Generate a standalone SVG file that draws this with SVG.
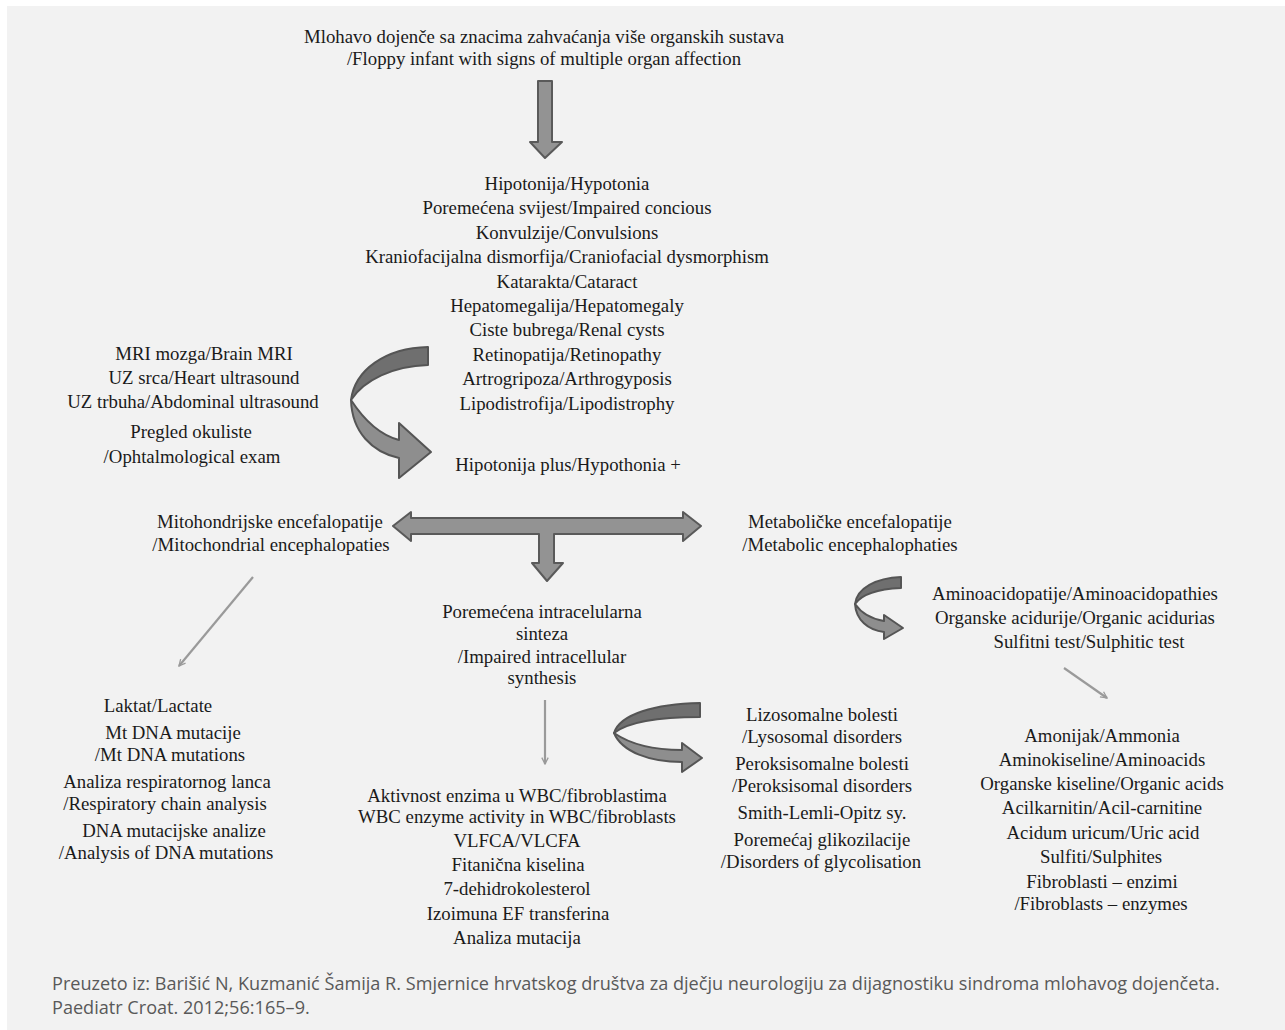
<svg xmlns="http://www.w3.org/2000/svg" width="1285" height="1030" viewBox="0 0 1285 1030">
<style>
.t{font-family:"Liberation Serif","Times New Roman",serif;font-size:18.8px;fill:#1a1a1a;text-anchor:middle}
.f{font-family:"Open Sans","Noto Sans",sans-serif;font-size:18.1px;fill:#595959}
.blk{fill:#939393;stroke:#5a5a5a;stroke-width:2;stroke-linejoin:round}
.dk{fill:#6f6f6f;stroke:#555;stroke-width:2;stroke-linejoin:round}
.lt{fill:#8e8e8e;stroke:#555;stroke-width:2;stroke-linejoin:round}
.thin{stroke:#9a9a9a;stroke-width:2.2;fill:none}
</style>
<defs>
<marker id="ah" viewBox="0 0 10 10" refX="9" refY="5" markerWidth="8" markerHeight="8" markerUnits="userSpaceOnUse" orient="auto">
<path d="M1,1 L9,5 L1,9" fill="none" stroke="#9a9a9a" stroke-width="1.6"/>
</marker>
</defs>
<rect x="7" y="6" width="1278" height="1024" fill="#f2f2f2"/>

<g id="connectors">
<path class="blk" d="M538,81 L552,81 L552,142 L562,142 L545,158 L530,142 L538,142 Z"/>
<g id="curved1">
<path class="dk" d="M428,347 L428,365 C393,366 364,380 351,400 C355,370 385,348 428,347 Z"/>
<path class="lt" d="M351,400 C364,420 380,435 399,440 L399,423 L431,452 L399,478 L399,458 C372,452 352,432 351,400 Z"/>
</g>
<path class="blk" d="M411,518 L539,518 L683,518 L683,512 L701,526 L683,541 L683,534 L554,534 L554,563 L563,563 L547,581 L532,563 L539,563 L539,534 L411,534 L411,541 L393,526 L411,512 Z"/>
<g id="curved2">
<path class="dk" d="M901,577 L901,588 C878,589 862,594 855,604 C857,588 876,578 901,577 Z"/>
<path class="lt" d="M855,604 C862,614 872,619 884,621 L884,615 L903,628 L884,639 L884,632 C868,630 856,620 855,604 Z"/>
</g>
<g id="curved3">
<path class="dk" d="M700,703 L700,717 C660,717 628,722 614,733 C620,714 655,704 700,703 Z"/>
<path class="lt" d="M614,733 C630,744 655,750 682,750 L682,743 L702,758 L682,772 L682,762 C650,762 622,752 614,733 Z"/>
</g>
<line class="thin" x1="253" y1="577" x2="179" y2="666" marker-end="url(#ah)"/>
<line class="thin" x1="545" y1="700" x2="545" y2="764" marker-end="url(#ah)"/>
<line class="thin" x1="1064" y1="668" x2="1107" y2="698" marker-end="url(#ah)"/>
</g>

<g id="n-top">
<text class="t" x="544" y="43">Mlohavo dojenče sa znacima zahvaćanja više organskih sustava</text>
<text class="t" x="544" y="65">/Floppy infant with signs of multiple organ affection</text>
</g>
<g id="n-signs">
<text class="t" x="567" y="190">Hipotonija/Hypotonia</text>
<text class="t" x="567" y="214">Poremećena svijest/Impaired concious</text>
<text class="t" x="567" y="239">Konvulzije/Convulsions</text>
<text class="t" x="567" y="263">Kraniofacijalna dismorfija/Craniofacial dysmorphism</text>
<text class="t" x="567" y="288">Katarakta/Cataract</text>
<text class="t" x="567" y="312">Hepatomegalija/Hepatomegaly</text>
<text class="t" x="567" y="336">Ciste bubrega/Renal cysts</text>
<text class="t" x="567" y="361">Retinopatija/Retinopathy</text>
<text class="t" x="567" y="385">Artrogripoza/Arthrogyposis</text>
<text class="t" x="567" y="410">Lipodistrofija/Lipodistrophy</text>
</g>
<g id="n-imaging">
<text class="t" x="204" y="360">MRI mozga/Brain MRI</text>
<text class="t" x="204" y="384">UZ srca/Heart ultrasound</text>
<text class="t" x="193" y="408">UZ trbuha/Abdominal ultrasound</text>
<text class="t" x="191" y="438">Pregled okuliste</text>
<text class="t" x="192" y="463">/Ophtalmological exam</text>
</g>
<g id="n-plus">
<text class="t" x="568" y="471">Hipotonija plus/Hypothonia +</text>
</g>
<g id="n-mito">
<text class="t" x="270" y="528">Mitohondrijske encefalopatije</text>
<text class="t" x="271" y="551">/Mitochondrial encephalopaties</text>
</g>
<g id="n-meta">
<text class="t" x="850" y="528">Metaboličke encefalopatije</text>
<text class="t" x="850" y="551">/Metabolic encephalophaties</text>
</g>
<g id="n-synth">
<text class="t" x="542" y="618">Poremećena intracelularna</text>
<text class="t" x="542" y="640">sinteza</text>
<text class="t" x="542" y="663">/Impaired intracellular</text>
<text class="t" x="542" y="684">synthesis</text>
</g>
<g id="n-amino">
<text class="t" x="1075" y="600">Aminoacidopatije/Aminoacidopathies</text>
<text class="t" x="1075" y="624">Organske acidurije/Organic acidurias</text>
<text class="t" x="1089" y="648">Sulfitni test/Sulphitic test</text>
</g>
<g id="n-mitotests">
<text class="t" x="158" y="712">Laktat/Lactate</text>
<text class="t" x="173" y="739">Mt DNA mutacije</text>
<text class="t" x="170" y="761">/Mt DNA mutations</text>
<text class="t" x="167" y="788">Analiza respiratornog lanca</text>
<text class="t" x="165" y="810">/Respiratory chain analysis</text>
<text class="t" x="174" y="837">DNA mutacijske analize</text>
<text class="t" x="166" y="859">/Analysis of DNA mutations</text>
</g>
<g id="n-synthtests">
<text class="t" x="517" y="802">Aktivnost enzima u WBC/fibroblastima</text>
<text class="t" x="517" y="823">WBC enzyme activity in WBC/fibroblasts</text>
<text class="t" x="517" y="847">VLFCA/VLCFA</text>
<text class="t" x="518" y="871">Fitanična kiselina</text>
<text class="t" x="517" y="895">7-dehidrokolesterol</text>
<text class="t" x="518" y="920">Izoimuna EF transferina</text>
<text class="t" x="517" y="944">Analiza mutacija</text>
</g>
<g id="n-disorders">
<text class="t" x="822" y="721">Lizosomalne bolesti</text>
<text class="t" x="822" y="743">/Lysosomal disorders</text>
<text class="t" x="822" y="770">Peroksisomalne bolesti</text>
<text class="t" x="822" y="792">/Peroksisomal disorders</text>
<text class="t" x="822" y="819">Smith-Lemli-Opitz sy.</text>
<text class="t" x="822" y="846">Poremećaj glikozilacije</text>
<text class="t" x="821" y="868">/Disorders of glycolisation</text>
</g>
<g id="n-metatests">
<text class="t" x="1102" y="742">Amonijak/Ammonia</text>
<text class="t" x="1102" y="766">Aminokiseline/Aminoacids</text>
<text class="t" x="1102" y="790">Organske kiseline/Organic acids</text>
<text class="t" x="1102" y="814">Acilkarnitin/Acil-carnitine</text>
<text class="t" x="1103" y="839">Acidum uricum/Uric acid</text>
<text class="t" x="1101" y="863">Sulfiti/Sulphites</text>
<text class="t" x="1102" y="888">Fibroblasti – enzimi</text>
<text class="t" x="1101" y="910">/Fibroblasts – enzymes</text>
</g>
<g id="footer">
<text class="f" x="52" y="990">Preuzeto iz: Barišić N, Kuzmanić Šamija R. Smjernice hrvatskog društva za dječju neurologiju za dijagnostiku sindroma mlohavog dojenčeta.</text>
<text class="f" x="52" y="1014">Paediatr Croat. 2012;56:165–9.</text>
</g>
</svg>
